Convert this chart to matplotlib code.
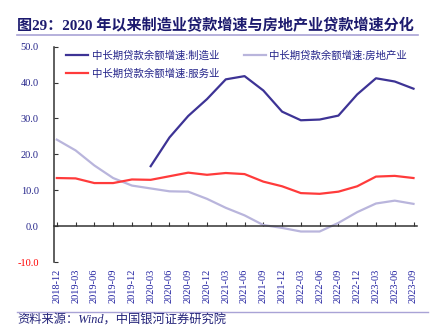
import numpy as np
import matplotlib.pyplot as plt
from matplotlib.lines import Line2D

# 数据
dates = ['2018-12', '2019-03', '2019-06', '2019-09', '2019-12',
         '2020-03', '2020-06', '2020-09', '2020-12',
         '2021-03', '2021-06', '2021-09', '2021-12',
         '2022-03', '2022-06', '2022-09', '2022-12',
         '2023-03', '2023-06', '2023-09']
zhizao = [np.nan, np.nan, np.nan, np.nan, np.nan,
          16.7, 24.7, 30.7, 35.4, 40.9, 41.8, 37.8, 31.9,
          29.5, 29.7, 30.8, 36.7, 41.2, 40.3, 38.3]
fangdichan = [24.1, 21.1, 16.9, 13.4, 11.3, 10.5, 9.7, 9.6, 7.6, 5.1,
              3.0, 0.3, -0.5, -1.5, -1.5, 0.9, 3.9, 6.3, 7.1, 6.2]
fuwu = [13.4, 13.3, 12.0, 12.0, 13.0, 12.9, 13.9, 14.9, 14.3, 14.8,
        14.5, 12.4, 11.1, 9.2, 9.0, 9.6, 11.1, 13.8, 14.0, 13.4]
names = ['中长期贷款余额增速:制造业', '中长期贷款余额增速:房地产业', '中长期贷款余额增速:服务业']

navy = '#3d3395'
lav = '#b9b5dc'
red = '#ff3b3b'
txt = '#24248a'
serif_cjk = ['Liberation Serif', 'Noto Sans CJK SC']

fig = plt.figure(figsize=(4.44, 3.35), dpi=100)
ax = fig.add_axes([54/444, 1-262/335, (416.7-54)/444, (262-46.7)/335])

x = np.arange(len(dates))
l1, = ax.plot(x, zhizao, color=navy, lw=1.6)
l2, = ax.plot(x, fangdichan, color=lav, lw=1.6)
l3, = ax.plot(x, fuwu, color=red, lw=1.6)

ax.set_xlim(-0.15, 19.17)
ax.set_ylim(-10, 50)

for s in ['top', 'right']:
    ax.spines[s].set_visible(False)
ax.spines['left'].set_color('#333333')
ax.spines['left'].set_linewidth(1.1)
ax.spines['bottom'].set_position(('data', 0))
ax.spines['bottom'].set_color('#333333')
ax.spines['bottom'].set_linewidth(1.1)

ax.set_xticks(x)
ax.tick_params(axis='x', direction='in', length=3, color='#333333', labelbottom=False)
ax.set_yticks(np.arange(-10, 51, 10))
ax.set_yticklabels(['%.1f' % v for v in np.arange(-10, 51, 10)],
                   family='Liberation Serif', fontsize=7.5)
ax.tick_params(axis='y', direction='in', length=3, color='#333333', pad=11)
for lab, v in zip(ax.get_yticklabels(), np.arange(-10, 51, 10)):
    lab.set_color('#ff0000' if v < 0 else txt)

sec = ax.secondary_xaxis('bottom')
sec.set_xticks(x)
sec.set_xticklabels(dates, rotation=90, family='Liberation Serif', fontsize=7.5, color='#2020a0')
sec.tick_params(length=0, pad=5)
sec.spines['bottom'].set_visible(False)

# 图例按行排列：制造业、房地产业 / 服务业
leg = fig.legend([l1, l3, l2], [names[0], names[2], names[1]], ncol=2, loc='upper left',
                 bbox_to_anchor=(66/444, 1-50/335), frameon=False,
                 prop={'family': serif_cjk, 'size': 7.5},
                 handlelength=2.1, handletextpad=0.35, columnspacing=2.4,
                 labelspacing=0.75, borderpad=0, borderaxespad=0)
for t in leg.get_texts():
    t.set_color(txt)

# 标题与来源
fig.text(17/444, 1-25.5/335, '图29：2020 年以来制造业贷款增速与房地产业贷款增速分化',
         family=serif_cjk, fontsize=10.9, fontweight='bold', color='#1c1a6e', va='center')
fig.add_artist(Line2D([17/444, 418/444], [1-35/335, 1-35/335], color='#a9a3d6', lw=1.2))
fig.add_artist(Line2D([17/444, 428/444], [1-311.7/335, 1-311.7/335], color='#a9a3d6', lw=1.0))
fig.text(17/444, 1-321/335, '资料来源：Wind，中国银河证券研究院',
         family=serif_cjk, fontsize=8.8, style='italic', color='#24247a', va='center')

fig.savefig('out.png', dpi=100)
